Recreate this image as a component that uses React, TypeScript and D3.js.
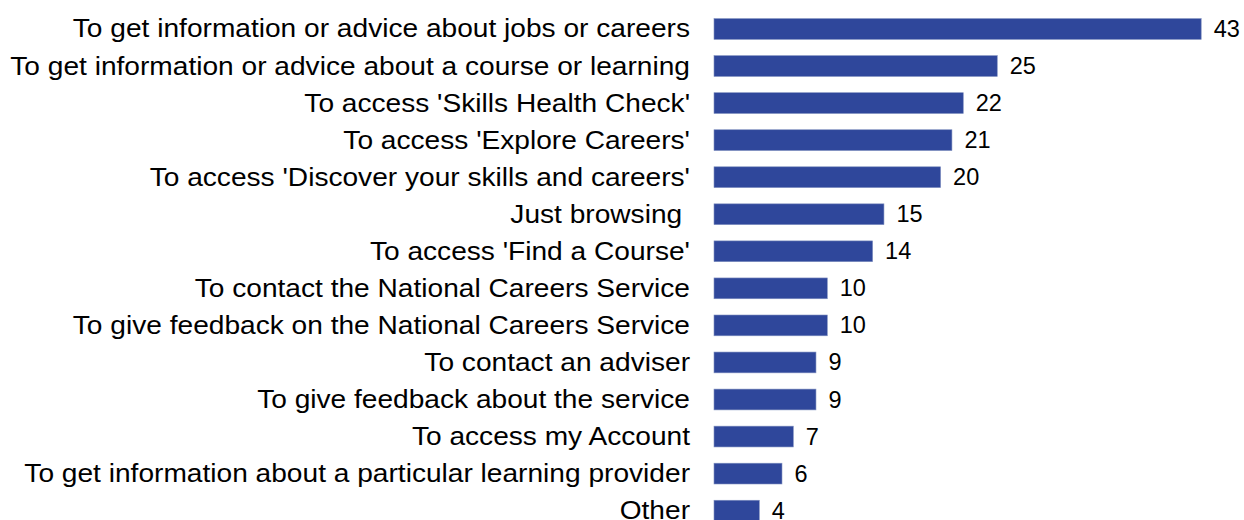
import React from "react";
import * as d3 from "d3";

const categories = [
  "To get information or advice about jobs or careers",
  "To get information or advice about a course or learning",
  "To access 'Skills Health Check'",
  "To access 'Explore Careers'",
  "To access 'Discover your skills and careers'",
  "Just browsing ",
  "To access 'Find a Course'",
  "To contact the National Careers Service",
  "To give feedback on the National Careers Service",
  "To contact an adviser",
  "To give feedback about the service",
  "To access my Account",
  "To get information about a particular learning provider",
  "Other",
];
const values = [43, 25, 22, 21, 20, 15, 14, 10, 10, 9, 9, 7, 6, 4];

const W = 1244;
const H = 520;
const x0 = 714;
const pxPerUnit = 11.33;
const rowStep = 37.05;
const firstCenter = 29;

export default function App() {
  const x = d3.scaleLinear().domain([0, 43]).range([x0, x0 + 43 * pxPerUnit]);
  const y = d3
    .scaleBand<string>()
    .domain(categories)
    .range([firstCenter - rowStep / 2, firstCenter - rowStep / 2 + rowStep * categories.length])
    .paddingInner(0.44)
    .paddingOuter(0.22);
  const bh = 20.8;
  const font = "'Liberation Sans', Arial, sans-serif";
  return (
    <svg
      width={W}
      height={H}
      style={{ position: "absolute", left: 0, top: 0, background: "#fff" }}
      fontFamily={font}
    >
      {categories.map((c, i) => {
        const cy = (y(c) as number) + y.bandwidth() / 2;
        return (
          <g key={c}>
            <text
              transform={`translate(690,${cy}) scale(1.125,1)`}
              x={0}
              y={0}
              textAnchor="end"
              dominantBaseline="central"
              fontSize={25}
              fill="#000"
              style={{ whiteSpace: "pre" }}
            >
              {c}
            </text>
            <rect
              x={x(0)}
              y={cy - bh / 2}
              width={x(values[i]) - x(0)}
              height={bh}
              fill="#2F479B"
              stroke="#7f8fbf"
              strokeWidth={0.6}
            />
            <text x={x(values[i]) + 12.5} y={cy} dominantBaseline="central" fontSize={23.5} fill="#000">
              {values[i]}
            </text>
          </g>
        );
      })}
    </svg>
  );
}
